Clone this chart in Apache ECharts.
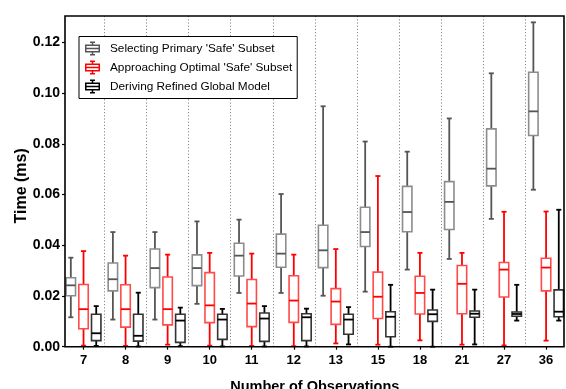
<!DOCTYPE html>
<html>
<head>
<meta charset="utf-8">
<script src="https://cdn.jsdelivr.net/npm/echarts@6/dist/echarts.min.js"></script>
<style>
  html, body { margin: 0; padding: 0; background: #fff; }
  #chart { width: 566px; height: 389px; }
</style>
</head>
<body>
<div id="chart"></div>
<script>
// Number of observations per run (x categories)
const categories = ['7', '8', '9', '10', '11', '12', '13', '15', '18', '21', '27', '36'];

// Series names
const seriesNames = [
  "Selecting Primary 'Safe' Subset",
  "Approaching Optimal 'Safe' Subset",
  "Deriving Refined Global Model"
];

// Box statistics per category: [min, Q1, median, Q3, max] in ms
const primarySafe = [
  [0.0116, 0.0201, 0.0242, 0.0272, 0.0351],
  [0.0107, 0.0220, 0.0266, 0.0330, 0.0452],
  [0.0107, 0.0233, 0.0310, 0.0385, 0.0452],
  [0.0169, 0.0241, 0.0310, 0.0362, 0.0494],
  [0.0212, 0.0279, 0.0359, 0.0408, 0.0501],
  [0.0212, 0.0313, 0.0367, 0.0444, 0.0602],
  [0.0201, 0.0312, 0.0380, 0.0479, 0.0948],
  [0.0217, 0.0395, 0.0452, 0.0550, 0.0809],
  [0.0304, 0.0453, 0.0531, 0.0632, 0.0769],
  [0.0346, 0.0462, 0.0571, 0.0651, 0.0900],
  [0.0504, 0.0634, 0.0702, 0.0859, 0.1078],
  [0.0619, 0.0833, 0.0928, 0.1082, 0.1279]
];

const optimalSafe = [
  [0.0004, 0.0071, 0.0148, 0.0245, 0.0377],
  [0.0003, 0.0077, 0.0148, 0.0244, 0.0359],
  [0.0008, 0.0086, 0.0148, 0.0275, 0.0363],
  [0.0004, 0.0095, 0.0163, 0.0292, 0.0370],
  [0.0003, 0.0079, 0.0170, 0.0265, 0.0367],
  [0.0002, 0.0096, 0.0182, 0.0280, 0.0363],
  [0.0013, 0.0088, 0.0178, 0.0229, 0.0385],
  [0.0008, 0.0111, 0.0197, 0.0294, 0.0673],
  [0.0025, 0.0129, 0.0212, 0.0278, 0.0370],
  [0.0008, 0.0130, 0.0248, 0.0320, 0.0370],
  [0.0005, 0.0196, 0.0304, 0.0332, 0.0532],
  [0.0024, 0.0220, 0.0312, 0.0349, 0.0533]
];

const refinedGlobal = [
  [0.0003, 0.0024, 0.0053, 0.0128, 0.0160],
  [0.0001, 0.0022, 0.0043, 0.0128, 0.0213],
  [0.0002, 0.0017, 0.0103, 0.0128, 0.0154],
  [0.0001, 0.0029, 0.0107, 0.0128, 0.0149],
  [0.0001, 0.0021, 0.0111, 0.0133, 0.0160],
  [0.0001, 0.0024, 0.0116, 0.0130, 0.0150],
  [0.0009, 0.0049, 0.0107, 0.0128, 0.0156],
  [0.0000, 0.0039, 0.0118, 0.0138, 0.0244],
  [0.0000, 0.0100, 0.0128, 0.0145, 0.0225],
  [0.0009, 0.0116, 0.0130, 0.0141, 0.0225],
  [0.0103, 0.0120, 0.0129, 0.0137, 0.0244],
  [0.0103, 0.0118, 0.0138, 0.0224, 0.0540]
];

// Y axis ticks
const yTicks = [0.00, 0.02, 0.04, 0.06, 0.08, 0.10, 0.12];

const FONT = 'Liberation Sans, Arial, Helvetica, sans-serif';

// Per-series look: whisker colour, box outline colour, horizontal offset within a band
const looks = [
  { whisker: '#555555', box: '#8c8c8c', median: '#555555', offset: -0.302 },
  { whisker: '#ff0000', box: '#ff4a4a', median: '#ff0000', offset: 0 },
  { whisker: '#000000', box: '#333333', median: '#000000', offset: 0.302 }
];

function boxRenderer(look) {
  return function (params, api) {
    const xi = api.value(0);
    const band = api.size([1, 0])[0];
    const cx = api.coord([xi, 0])[0] + look.offset * band;
    const yMin = api.coord([xi, api.value(1)])[1];
    const yQ1 = api.coord([xi, api.value(2)])[1];
    const yMed = api.coord([xi, api.value(3)])[1];
    const yQ3 = api.coord([xi, api.value(4)])[1];
    const yMax = api.coord([xi, api.value(5)])[1];
    const hw = band * 0.112;
    const cw = band * 0.06;
    const wStyle = { stroke: look.whisker, lineWidth: 1.8 };
    return {
      type: 'group',
      children: [
        { type: 'line', shape: { x1: cx, y1: yQ3, x2: cx, y2: yMax }, style: wStyle },
        { type: 'line', shape: { x1: cx, y1: yQ1, x2: cx, y2: yMin }, style: wStyle },
        { type: 'line', shape: { x1: cx - cw, y1: yMax, x2: cx + cw, y2: yMax }, style: wStyle },
        { type: 'line', shape: { x1: cx - cw, y1: yMin, x2: cx + cw, y2: yMin }, style: wStyle },
        {
          type: 'rect',
          shape: { x: cx - hw, y: yQ3, width: hw * 2, height: yQ1 - yQ3 },
          style: { fill: '#ffffff', stroke: look.box, lineWidth: 1.6 }
        },
        {
          type: 'line',
          shape: { x1: cx - hw, y1: yMed, x2: cx + hw, y2: yMed },
          style: { stroke: look.median, lineWidth: 1.8 }
        }
      ]
    };
  };
}

// Small box-and-whisker glyph used as the legend icon
const boxIcon = 'path://' +
  'M5 0H10V1.5H5Z M6.75 0H8.25V3H6.75Z ' +
  'M0 3H15V4.5H0Z M0 9.5H15V11H0Z M0 3H1.5V11H0Z M13.5 3H15V11H13.5Z ' +
  'M0 6.25H15V7.75H0Z ' +
  'M6.75 11H8.25V14H6.75Z M5 12.5H10V14H5Z';

const seriesData = [primarySafe, optimalSafe, refinedGlobal];

const chart = echarts.init(document.getElementById('chart'), null, { renderer: 'canvas' });

chart.setOption({
  animation: false,
  backgroundColor: '#ffffff',
  textStyle: { fontFamily: FONT },
  grid: { left: 62.5, right: -1.1, top: 16, bottom: 42.3, containLabel: false, outerBoundsMode: 'none' },
  legend: {
    orient: 'vertical',
    left: 79,
    top: 36.5,
    padding: [5, 5, 5, 6],
    itemWidth: 15,
    itemHeight: 14,
    itemGap: 5,
    backgroundColor: '#ffffff',
    borderColor: '#000000',
    borderWidth: 1,
    textStyle: { fontFamily: FONT, fontSize: 11.8, color: '#000', padding: [0, 0, 0, 5], lineHeight: 14 },
    data: seriesNames.map((n, i) => ({ name: n, icon: boxIcon, itemStyle: { color: looks[i].whisker } }))
  },
  xAxis: {
    type: 'category',
    data: categories,
    boundaryGap: true,
    name: 'Number of Observations',
    nameLocation: 'middle',
    nameGap: 33,
    nameMoveOverlap: false,
    nameTextStyle: { fontFamily: FONT, fontSize: 14.5, fontWeight: 'bold', color: '#000' },
    axisLine: { show: false },
    axisTick: { show: true, alignWithLabel: true, length: 3, lineStyle: { color: '#000', width: 1.2 } },
    axisLabel: { fontFamily: FONT, fontSize: 13, fontWeight: 'bold', color: '#000', margin: 7 },
    splitLine: {
      show: true,
      interval: function (i) { return i > 0; },
      lineStyle: { color: '#8a8a8a', width: 1, type: [1.2, 2] }
    }
  },
  yAxis: {
    type: 'value',
    min: 0,
    max: 0.1304,
    interval: 0.02,
    offset: -2.5,
    name: 'Time (ms)',
    nameLocation: 'middle',
    nameGap: 35,
    nameMoveOverlap: false,
    nameTextStyle: { fontFamily: FONT, fontSize: 16, fontWeight: 'bold', color: '#000', padding: [0, 9, 0, 0] },
    axisLine: { show: false },
    axisTick: { show: true, length: 3, lineStyle: { color: '#000', width: 1.2 } },
    axisLabel: {
      fontFamily: FONT, fontSize: 14, fontWeight: 'bold', color: '#000', margin: 5,
      showMaxLabel: false,
      formatter: function (v) {
        const hit = yTicks.find(t => Math.abs(t - v) < 1e-9);
        return hit === undefined ? '' : hit.toFixed(2);
      }
    },
    splitLine: { show: false }
  },
  graphic: [{
    type: 'rect',
    z: 100,
    silent: true,
    shape: { x: 65, y: 16, width: 499, height: 330.7 },
    style: { fill: null, stroke: '#000', lineWidth: 1.6 }
  }],
  series: seriesData.map((rows, s) => ({
    type: 'custom',
    name: seriesNames[s],
    itemStyle: { color: looks[s].whisker },
    renderItem: boxRenderer(looks[s]),
    encode: { x: 0, y: [1, 2, 3, 4, 5] },
    data: rows.map((r, i) => [i].concat(r))
  }))
});
</script>
</body>
</html>
